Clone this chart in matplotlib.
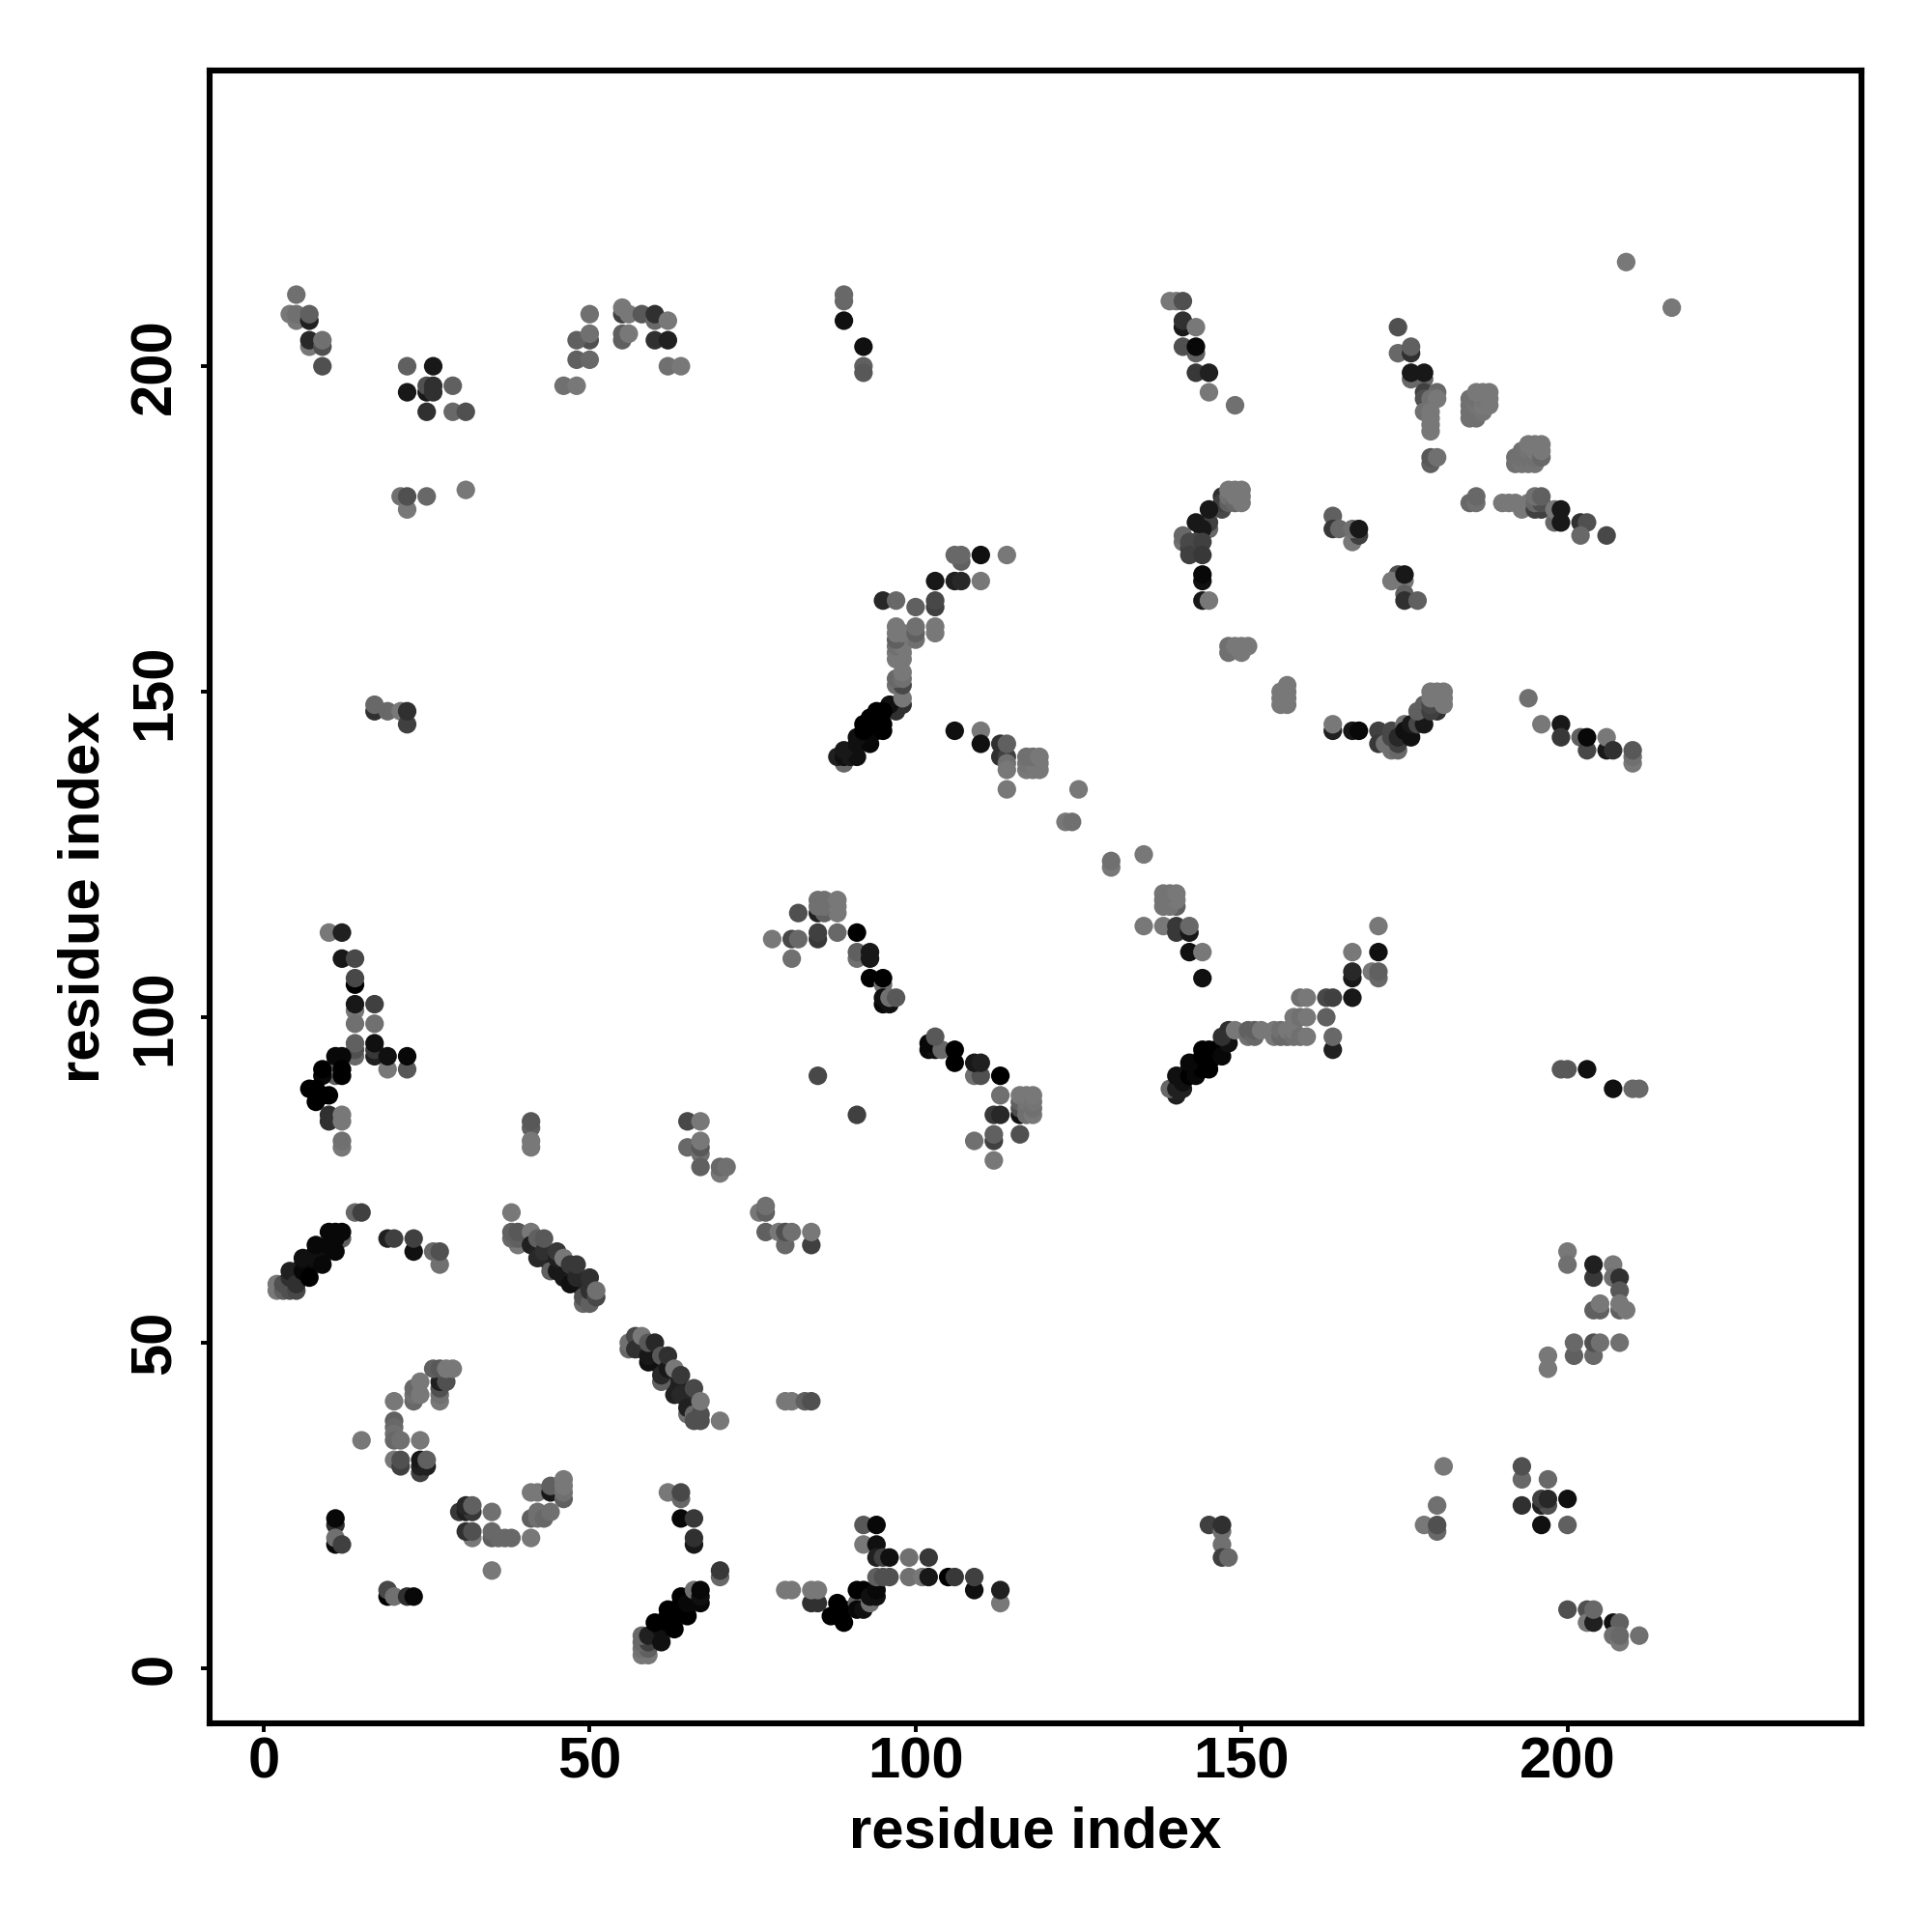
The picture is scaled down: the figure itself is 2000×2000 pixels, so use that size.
import numpy as np
import matplotlib
matplotlib.use('Agg')
import matplotlib.pyplot as plt

# contacts: (residue x, residue y, grey level)
under_grey = [(5,60,0x60),(7,61,0x60),(9,63,0x60),(9,64,0x60),(11,65,0x60),(12,66,0x60),(11,93,0x60),(11,91,0x60),(93,144,0x60),(143,93,0x70),
    (61,5,0x70),(63,7,0x70),(65,9,0x70)]

dense_black = [(5,60,0x10),(7,62,0x08),(9,64,0x08),(11,66,0x08),(8,64,0x08),(6,62,0x10),
    (94,146,0x00),(93,145,0x00),(93,146,0x00),(92,143,0x08),(94,144,0x00),
    (146,94,0x00),(144,93,0x00),(145,93,0x00),(143,92,0x00),(142,92,0x00),(141,91,0x10),
    (43,63,0x18),(44,62,0x18),(45,62,0x28),(46,60,0x18),(47,60,0x20),(49,59,0x18),(49,58,0x28),
    (58,49,0x20),(60,47,0x18),(60,48,0x28),(62,45,0x18),(63,44,0x20),(64,43,0x20),(65,42,0x28),(65,41,0x30),(66,40,0x38),
    (63,8,0x00),(61,7,0x08),(62,8,0x00),(64,10,0x00),(65,11,0x08)]

top_left = [(4,208,0x78),(5,207,0x78),(5,208,0x70),(7,203,0x78),(7,207,0x20),(7,208,0x60),(5,211,0x70),
    (7,204,0x28),(9,203,0x50),(9,204,0x70),(9,200,0x50),
    (22,200,0x60),(26,200,0x18),(22,196,0x18),(25,193,0x30),(25,196,0x18),(25,197,0x50),(26,196,0x30),(26,197,0x30),
    (29,197,0x60),(29,193,0x68),(31,193,0x50),
    (21,180,0x70),(22,178,0x78),(22,180,0x50),(25,180,0x68),(31,181,0x78),
    (50,204,0x50),(48,204,0x60),(50,205,0x70),(50,208,0x70),(48,201,0x60),(50,201,0x68),(46,197,0x70),(48,197,0x78),
    (55,208,0x40),(55,209,0x78),(56,208,0x78),(58,208,0x58),(60,207,0x68),(60,208,0x30),(62,207,0x78),
    (55,204,0x60),(55,205,0x60),(56,205,0x78),(60,204,0x30),(62,204,0x20),(62,200,0x70),(64,200,0x78),
    (17,147,0x30),(17,148,0x68),(19,147,0x68),(21,147,0x78),(22,145,0x40),(22,147,0x30)]

top_mid = [(89,211,0x68),(89,210,0x68),(89,207,0x10),(92,203,0x10),(92,200,0x60),(92,199,0x58),
    (139,210,0x78),(140,210,0x78),(141,210,0x50),(141,206,0x18),(141,207,0x30),(143,206,0x78),
    (143,202,0x60),(141,203,0x50),(143,203,0x08),(143,199,0x38),(145,199,0x20),(145,196,0x78),(149,194,0x70),
    (95,164,0x28),(97,164,0x68),(100,163,0x60),(103,163,0x40),(103,164,0x48),
    (103,167,0x18),(106,167,0x20),(107,167,0x28),(110,167,0x78),
    (107,170,0x60),(106,171,0x68),(107,171,0x68),(110,171,0x10),(114,171,0x78)]

top_band = [(98,148,0x30),(97,148,0x30),(97,147,0x30),(96,148,0x10),(98,149,0x78),
    (97,151,0x70),(98,151,0x48),(97,152,0x68),(98,152,0x70),(98,153,0x78),
    (97,155,0x78),(98,155,0x78),(97,156,0x78),(98,156,0x78),(97,157,0x70),(98,157,0x78),
    (97,158,0x60),(100,158,0x70),(97,159,0x78),(98,159,0x78),(100,159,0x60),(97,160,0x78),(100,160,0x70),
    (103,159,0x78),(103,160,0x78)]

stem_black = [(89,139,0x68),(88,140,0x20),(89,140,0x10),(90,140,0x18),(91,140,0x10),(89,141,0x18),
    (91,142,0x10),(93,142,0x08),(91,143,0x10),(92,144,0x00),(95,144,0x00),
    (92,145,0x00),(94,145,0x00),(95,145,0x00),(94,147,0x00),(95,147,0x00)]

top_right = [(174,206,0x50),(174,202,0x68),(176,202,0x30),(176,203,0x60),
    (176,198,0x68),(178,198,0x68),(176,199,0x18),(178,199,0x18),
    (178,196,0x40),(178,195,0x50),(180,196,0x68),(179,195,0x70),(180,195,0x78),
    (178,193,0x70),(179,193,0x78),(179,192,0x78),(179,191,0x78),(179,190,0x78),
    (179,185,0x60),(179,186,0x58),(180,186,0x70),
    (185,192,0x70),(185,193,0x70),(185,194,0x70),(185,195,0x70),(186,192,0x70),(186,193,0x70),(186,194,0x74),(186,195,0x70),
    (187,193,0x74),(187,194,0x78),(187,195,0x74),(187,196,0x78),(186,196,0x78),(188,194,0x78),(188,195,0x78),(188,196,0x78),
    (192,185,0x70),(192,186,0x70),(193,185,0x74),(193,186,0x70),(193,187,0x70),(194,185,0x74),(194,186,0x70),(194,187,0x74),(194,188,0x78),
    (195,185,0x74),(195,186,0x70),(195,187,0x78),(195,188,0x78),(196,186,0x68),(196,187,0x78),(196,188,0x78),
    (209,216,0x78),(216,209,0x78)]

row_179 = [(185,179,0x68),(186,179,0x70),(186,180,0x68),(190,179,0x78),(191,179,0x78),(192,179,0x78),(193,178,0x78),(194,179,0x78),
    (195,178,0x40),(196,178,0x40),(195,179,0x68),(196,179,0x50),(195,180,0x70),(196,180,0x60),
    (198,176,0x68),(198,178,0x78),(199,176,0x18),(199,178,0x18),(202,176,0x30),(203,176,0x50),(202,174,0x68),(206,174,0x48)]

arc_175 = [(147,178,0x48),(147,180,0x30),(147,179,0x40),(148,179,0x60),(148,180,0x70),(148,181,0x78),(149,179,0x68),
    (149,180,0x78),(149,181,0x78),(150,179,0x78),(150,180,0x78),(150,181,0x78),
    (145,175,0x68),(145,176,0x40),(145,178,0x18),(143,176,0x18),(144,175,0x18),
    (141,173,0x70),(141,174,0x68),(142,172,0x40),(142,173,0x48),(143,172,0x40),(143,173,0x48),(144,173,0x40),
    (142,171,0x40),(144,171,0x38),(144,167,0x10),(144,168,0x08),(144,164,0x18),(145,164,0x78),
    (164,177,0x60),(164,175,0x38),(165,175,0x68),(167,173,0x78),(168,174,0x40),(167,175,0x70),(168,175,0x18),
    (174,168,0x50),(173,167,0x78),(175,167,0x78),(175,168,0x18),(175,165,0x60),(175,164,0x30),(177,164,0x60)]

mid_right = [(148,156,0x70),(148,157,0x70),(149,157,0x78),(150,156,0x78),(150,157,0x78),(151,157,0x78),
    (156,148,0x78),(157,148,0x78),(156,149,0x78),(157,149,0x78),(156,150,0x78),(157,150,0x78),(157,151,0x78),
    (164,144,0x20),(164,145,0x78),(167,144,0x18),(168,144,0x08),(171,144,0x40),(171,142,0x38),(172,142,0x70),
    (173,141,0x70),(174,141,0x68),(173,143,0x48),(173,144,0x48),(174,142,0x40),(174,143,0x28),
    (175,145,0x70),(175,144,0x10),(176,143,0x10),(176,145,0x18),(177,145,0x48),(178,145,0x18),
    (177,147,0x60),(178,148,0x60),(180,147,0x30),(179,147,0x40),(179,148,0x48),
    (179,149,0x78),(180,149,0x78),(181,148,0x78),(181,149,0x78),(179,150,0x78),(180,150,0x78),(181,150,0x78),
    (194,149,0x70),(196,145,0x78),(199,145,0x18),(199,143,0x38),(202,143,0x60),(203,141,0x48),(203,143,0x08),
    (206,141,0x18),(206,143,0x78),(207,141,0x30),(210,139,0x78),(210,140,0x70),(210,141,0x58)]

diag_mid = [(106,144,0x10),(110,144,0x78),(110,142,0x10),(113,140,0x30),(113,142,0x30),(114,140,0x40),(114,142,0x60),(114,139,0x70),(114,138,0x78),(114,135,0x78),
    (117,138,0x78),(118,138,0x78),(119,138,0x78),(117,139,0x74),(118,139,0x78),(119,139,0x78),(117,140,0x70),(118,140,0x70),(119,140,0x78),
    (125,135,0x78),(123,130,0x78),(124,130,0x70),(130,123,0x78),(130,124,0x70),(135,125,0x78),
    (140,117,0x60),(138,117,0x74),(139,117,0x74),(138,118,0x74),(139,118,0x74),(140,118,0x78),(138,119,0x74),(139,119,0x74),(140,119,0x78),
    (135,114,0x78),(138,114,0x78),(140,113,0x38),(140,114,0x38),(142,113,0x18),(142,114,0x68),(142,110,0x10),(144,110,0x78),(144,106,0x10)]

loop_115 = [(82,116,0x50),(85,116,0x20),(86,116,0x60),(88,116,0x78),(85,117,0x70),(86,117,0x70),(88,117,0x78),(85,118,0x70),(86,118,0x70),(88,118,0x78),
    (78,112,0x78),(81,112,0x48),(82,112,0x68),(81,109,0x70),(85,112,0x38),(85,113,0x40),(88,113,0x68),(91,113,0x00),
    (91,109,0x70),(91,110,0x60),(93,109,0x18),(93,110,0x18),(93,106,0x00),(95,105,0x70),(95,106,0x00),
    (95,102,0x08),(96,102,0x10),(95,103,0x10),(96,103,0x70),(97,103,0x58),(85,91,0x48),(91,85,0x40)]

strand_100 = [(102,95,0x08),(103,95,0x10),(102,96,0x08),(104,95,0x68),(103,97,0x58),(106,95,0x00),(106,93,0x00),
    (109,91,0x70),(110,91,0x50),(109,93,0x18),(110,93,0x20),(113,91,0x00),(113,88,0x70),
    (112,85,0x38),(113,85,0x28),(116,85,0x10),(116,86,0x50),(116,87,0x60),(116,88,0x78),(117,85,0x70),(117,86,0x70),(117,87,0x74),(117,88,0x78),
    (118,85,0x78),(118,86,0x70),(118,87,0x74),(118,88,0x78),(116,82,0x50),
    (109,81,0x70),(112,81,0x40),(112,82,0x60),(112,78,0x78)]

helix_95 = [(140,88,0x20),(139,89,0x68),(140,89,0x20),(141,89,0x20),(141,90,0x10),(140,91,0x10),(142,91,0x00),(143,91,0x08),
    (144,92,0x00),(145,92,0x00),(142,93,0x08),(144,94,0x00),(144,95,0x00),(145,95,0x00),(146,95,0x00),(147,94,0x08),(148,96,0x10),(147,97,0x30),
    (148,98,0x30),(149,98,0x78),(151,97,0x70),(151,98,0x60),(152,97,0x68),(152,98,0x60),(153,98,0x78),
    (155,97,0x78),(155,98,0x78),(156,97,0x68),(156,98,0x70),(157,97,0x68),(157,98,0x78),(158,97,0x70),(158,98,0x78),
    (158,100,0x78),(159,100,0x70),(160,100,0x78),(159,97,0x70),(160,97,0x78),(159,103,0x70),(160,103,0x78),
    (163,100,0x60),(163,103,0x48),(164,103,0x40),(164,95,0x20),(164,97,0x68),(167,103,0x18),
    (167,106,0x18),(167,107,0x28),(167,110,0x78),(170,107,0x78),(171,106,0x68),(171,107,0x60),(171,110,0x10),(171,114,0x78),
    (199,92,0x58),(200,92,0x58),(203,92,0x10),(207,89,0x10),(210,89,0x68),(211,89,0x68)]

left_y = [(10,113,0x78),(12,113,0x20),(12,109,0x18),(14,109,0x48),(14,105,0x00),(14,106,0x48),(14,101,0x78),(14,102,0x18),
    (17,102,0x40),(14,99,0x70),(17,99,0x70),(14,94,0x68),(14,95,0x50),(14,96,0x60),(17,94,0x20),(17,95,0x38),(17,96,0x10),
    (19,92,0x78),(19,94,0x10),(22,92,0x58),(22,94,0x08),
    (11,94,0x08),(12,94,0x08),(12,91,0x00),(12,92,0x00),(9,91,0x08),(9,92,0x00),
    (7,89,0x00),(8,89,0x00),(10,88,0x00),(9,88,0x00),(8,87,0x00),
    (10,84,0x30),(10,85,0x30),(12,84,0x78),(12,85,0x78),(12,80,0x78),(12,81,0x70),
    (41,83,0x60),(41,84,0x58),(41,80,0x78),(41,81,0x78)]

patch_80 = [(65,84,0x48),(67,84,0x78),(65,80,0x68),(67,79,0x70),(67,80,0x58),(67,81,0x78),(67,77,0x60),(70,76,0x78),(70,77,0x68),(71,77,0x70),
    (76,70,0x78),(77,70,0x60),(77,71,0x70),(77,67,0x60),(79,67,0x78),(80,65,0x68),(80,67,0x50),(81,67,0x70),(84,65,0x40),(84,67,0x78),
    (80,41,0x78),(81,41,0x78),(83,41,0x60),(84,41,0x50)]

strand_60 = [(2,58,0x78),(2,59,0x78),(3,58,0x60),(3,59,0x50),(4,58,0x50),(4,60,0x30),(4,61,0x20),(5,58,0x48),(5,59,0x30),
    (6,61,0x08),(7,60,0x00),(6,63,0x10),(8,63,0x10),(9,62,0x08),(8,65,0x08),(10,65,0x08),(11,64,0x08),
    (10,67,0x08),(11,67,0x08),(12,67,0x08),(14,70,0x68),(15,70,0x40),
    (19,66,0x20),(20,66,0x40),(23,64,0x10),(23,66,0x40),(26,64,0x68),(27,62,0x70),(27,64,0x50)]

strand_55 = [(38,70,0x78),(39,65,0x78),(38,66,0x68),(39,66,0x60),(38,67,0x60),(39,67,0x58),(41,67,0x78),(41,65,0x20),
    (42,63,0x28),(42,66,0x60),(43,64,0x30),(43,66,0x58),(44,61,0x60),(45,61,0x18),(45,63,0x20),(45,64,0x38),(46,63,0x78),
    (47,59,0x10),(47,62,0x38),(48,60,0x28),(48,62,0x38),(49,56,0x68),(49,57,0x50),(50,56,0x60),(50,58,0x30),(50,60,0x30),(51,57,0x48),(51,58,0x70),
    (56,49,0x68),(56,50,0x70),(57,51,0x48),(57,49,0x30),(58,51,0x78),(59,47,0x10),(59,48,0x18),(59,50,0x58),(60,50,0x28),
    (61,44,0x60),(61,45,0x28),(61,48,0x58),(62,46,0x18),(62,48,0x30),(63,42,0x20),(63,46,0x78),(64,42,0x28),(64,45,0x38),
    (65,39,0x70),(65,40,0x20),(66,39,0x68),(66,38,0x50),(66,43,0x48),(67,38,0x50),(67,39,0x50),(67,41,0x78),(70,38,0x78)]

low_left = [(15,35,0x78),(20,41,0x78),(20,38,0x60),(20,37,0x68),(20,36,0x70),(20,35,0x68),(21,35,0x70),(24,35,0x78),
    (20,32,0x78),(21,31,0x40),(21,32,0x50),(24,30,0x40),(24,31,0x20),(24,32,0x18),(25,31,0x20),(25,32,0x60),
    (23,41,0x68),(23,42,0x70),(23,43,0x68),(24,42,0x78),(24,44,0x78),
    (27,41,0x78),(27,42,0x70),(27,43,0x50),(27,44,0x20),(28,44,0x50),(26,46,0x60),(27,46,0x58),(28,46,0x78),(29,46,0x78),
    (30,24,0x38),(31,24,0x20),(32,24,0x38),(31,25,0x28),(32,25,0x60),(32,20,0x78),(31,21,0x30),(32,21,0x50),
    (35,24,0x70),(35,20,0x60),(35,21,0x68),(36,20,0x68),(37,20,0x68),(38,20,0x68),(41,20,0x78),(35,15,0x78),
    (41,27,0x78),(42,27,0x78),(44,27,0x18),(44,28,0x60),(46,26,0x60),(46,27,0x70),(46,28,0x78),(46,29,0x78),
    (41,23,0x60),(42,23,0x70),(42,24,0x70),(43,23,0x68),(44,24,0x70),
    (11,22,0x30),(11,23,0x08),(11,19,0x08),(11,20,0x70),(12,19,0x40),
    (19,11,0x00),(19,12,0x48),(20,11,0x70),(22,11,0x30),(23,11,0x08)]

low_mid = [(62,27,0x78),(64,26,0x68),(64,27,0x48),(64,23,0x08),(66,23,0x38),(66,19,0x18),(66,20,0x30),(70,14,0x68),(70,15,0x38),
    (58,2,0x78),(59,2,0x78),(58,3,0x70),(59,3,0x60),(58,4,0x68),(59,4,0x40),(58,5,0x68),(59,5,0x20),
    (61,4,0x10),(61,6,0x10),(60,7,0x00),(62,7,0x00),(63,6,0x00),(62,9,0x00),(64,9,0x00),(65,8,0x00),
    (64,11,0x00),(65,10,0x08),(66,12,0x70),(67,10,0x08),(67,11,0x10),(67,12,0x08),
    (80,12,0x78),(81,12,0x78),(84,10,0x30),(85,10,0x30),(84,12,0x78),(85,12,0x78),
    (88,10,0x00),(87,8,0x00),(88,8,0x00),(89,7,0x00),(89,9,0x00),(91,10,0x60),(91,9,0x08),(92,9,0x10),(93,10,0x70),
    (91,12,0x00),(92,12,0x00),(93,11,0x10),(94,11,0x10),(94,12,0x08),
    (92,22,0x58),(94,22,0x08),(92,19,0x78),(94,19,0x10),(94,17,0x20),(95,17,0x40),(96,17,0x10),
    (94,14,0x60),(95,14,0x50),(96,14,0x50),(99,17,0x70),(102,17,0x38),(99,14,0x70),(101,14,0x78),(102,14,0x18),
    (105,14,0x00),(106,14,0x38),(109,12,0x10),(109,14,0x40),(113,10,0x78),(113,12,0x20)]

low_right = [(200,64,0x78),(200,62,0x70),(204,60,0x38),(204,62,0x20),(207,62,0x78),(207,60,0x70),(208,60,0x30),(208,58,0x58),
    (204,55,0x60),(205,55,0x60),(205,56,0x78),(208,55,0x60),(208,56,0x78),(209,55,0x78),
    (201,48,0x60),(201,50,0x68),(204,48,0x68),(204,50,0x50),(205,50,0x70),(208,50,0x70),(197,46,0x78),(197,48,0x78),
    (181,31,0x78),(180,25,0x70),(178,22,0x78),(180,21,0x68),(180,22,0x50),
    (193,29,0x68),(193,31,0x50),(197,29,0x68),(193,25,0x30),(196,25,0x20),(197,25,0x50),(196,26,0x40),(197,26,0x28),(200,26,0x10),(196,22,0x10),(200,22,0x60),
    (200,9,0x50),(203,9,0x50),(203,7,0x78),(204,7,0x20),(204,9,0x68),(207,7,0x10),(208,7,0x60),(207,5,0x70),(208,4,0x78),(208,5,0x68),(211,5,0x70),
    (145,22,0x40),(147,21,0x70),(147,22,0x30),(147,19,0x70),(147,17,0x40),(148,17,0x68)]

x_ticks = [0, 50, 100, 150, 200]
y_ticks = [0, 50, 100, 150, 200]

groups = [under_grey, dense_black, top_left, top_mid, top_band, stem_black, top_right, row_179, arc_175, mid_right, diag_mid, loop_115,
          strand_100, helix_95, left_y, patch_80, strand_60, strand_55, low_left, low_mid, low_right]
pts = np.array([p for g in groups for p in g], dtype=float)

plt.rcParams['font.family'] = ['Liberation Sans', 'DejaVu Sans']
fig = plt.figure(figsize=(10, 10), dpi=200)
ax = fig.add_axes([217 / 2000, 1 - 1783.5 / 2000, 1710 / 2000, 1711 / 2000])

grey = pts[:, 2] / 255
ax.scatter(pts[:, 0], pts[:, 1], s=48, c=np.column_stack([grey, grey, grey]), linewidths=0)

ax.set_xlim(-8.3, 245.1)
ax.set_ylim(-8.4, 245.5)
ax.set_xticks(x_ticks)
ax.set_yticks(y_ticks)
ax.set_xticklabels(x_ticks, fontsize=21.5, fontweight='bold')
ax.set_yticklabels(y_ticks, fontsize=21.5, fontweight='bold', rotation=90, va='center')
ax.tick_params(axis='x', length=3.2, width=1.4, pad=2)
ax.tick_params(axis='y', length=3.2, width=1.4, pad=7)
ax.set_xlabel('residue index', fontsize=21.5, fontweight='bold', labelpad=6)
ax.set_ylabel('residue index', fontsize=21.5, fontweight='bold', labelpad=7)
for s in ax.spines.values():
    s.set_linewidth(2.2)

fig.savefig('out.png', dpi=200)
